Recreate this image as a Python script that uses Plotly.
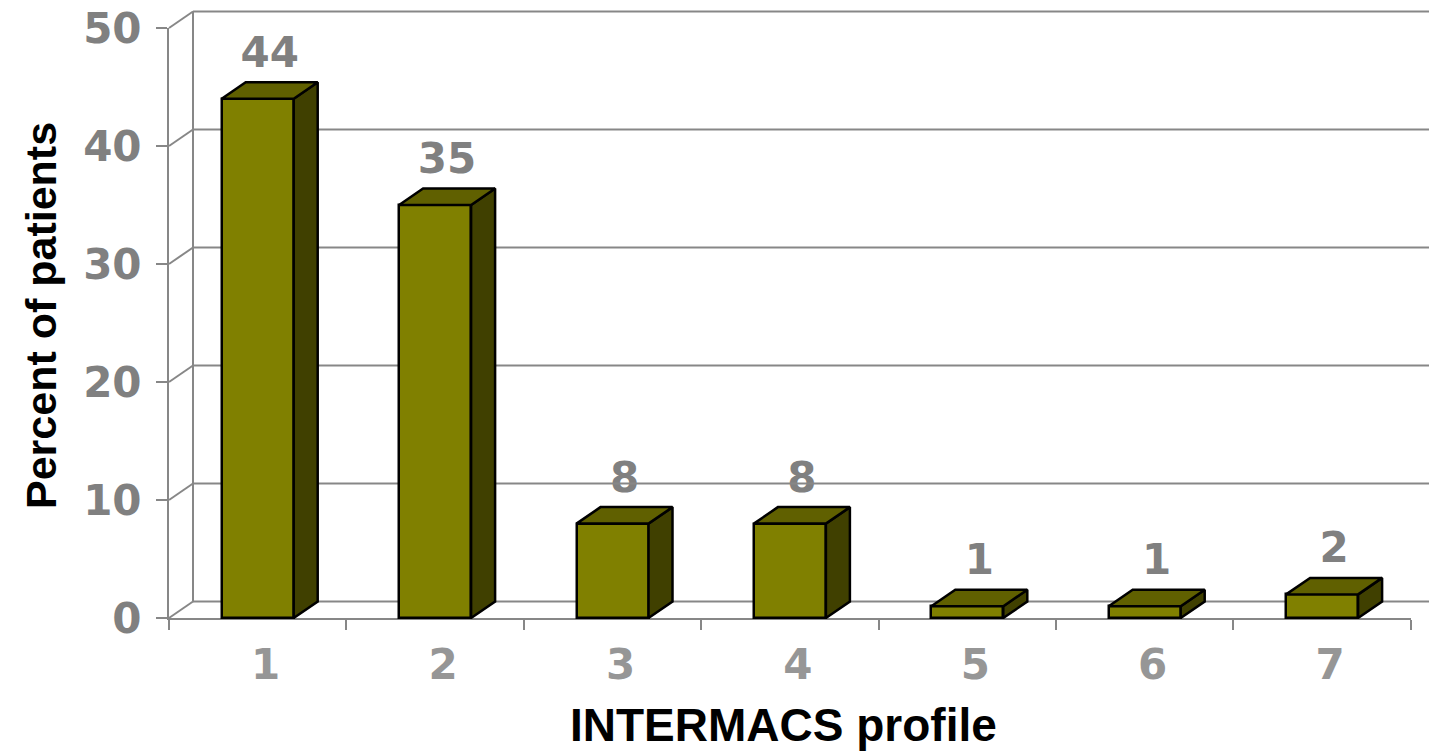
import plotly.graph_objects as go

# ---- data ----
profiles = ["1", "2", "3", "4", "5", "6", "7"]
percent = [44, 35, 8, 8, 1, 1, 2]
y_ticks = [0, 10, 20, 30, 40, 50]

# ---- geometry (pixels) ----
W, H = 1429, 755
X_LEFT = 169          # front plane, left edge of category axis
CAT_PX = 177.4        # width of one category
Y_BASE = 618          # front plane, value 0
UNIT_PX = 11.8        # pixels per percent
DX_PX, DY_PX = 24, 16.5   # depth offset of the back wall
BAR_PX = 72
LABEL_SHIFT_PX = 8
EDGE_W = 2.5

DXU = DX_PX / CAT_PX
DYU = DY_PX / UNIT_PX
BAR_W = BAR_PX / CAT_PX
N = len(profiles)
X_MAX = 0.5 + (W - X_LEFT) / CAT_PX

OLIVE = "#808000"
OLIVE_TOP = "#606000"
OLIVE_SIDE = "#404000"
GRID = "#878787"
TICK_GREY = "#808080"
CAT_GREY = "#969696"


def fx(p):
    return p / W


def fy(p):
    return 1 - p / H


centers = list(range(1, N + 1))
fig = go.Figure()

# value labels above the bars (front-plane axes share the depth axes' scale)
fig.add_trace(go.Scatter(
    x=[c + DXU / 2 for c in centers],
    y=[v + DYU + 2.2 for v in percent],
    text=[str(v) for v in percent],
    mode="text", textposition="middle center",
    textfont=dict(family="DejaVu Sans", size=42, color=TICK_GREY, weight="bold"),
    cliponaxis=False, xaxis="x", yaxis="y", hoverinfo="skip",
))

# front faces
fig.add_trace(go.Bar(
    x=centers, y=percent, width=BAR_W,
    marker=dict(color=OLIVE, line=dict(color="black", width=EDGE_W)),
    xaxis="x2", yaxis="y2", hoverinfo="skip",
))

# side and top faces of each bar
for c, v in zip(centers, percent):
    r = c + BAR_W / 2
    l = c - BAR_W / 2
    fig.add_trace(go.Scatter(
        x=[r, r + DXU, r + DXU, r, r], y=[0, DYU, v + DYU, v, 0],
        mode="lines", fill="toself", fillcolor=OLIVE_SIDE,
        line=dict(color="black", width=EDGE_W), xaxis="x2", yaxis="y2",
        hoverinfo="skip",
    ))
    fig.add_trace(go.Scatter(
        x=[l, r, r + DXU, l + DXU, l], y=[v, v, v + DYU, v + DYU, v],
        mode="lines", fill="toself", fillcolor=OLIVE_TOP,
        line=dict(color="black", width=EDGE_W), xaxis="x2", yaxis="y2",
        hoverinfo="skip",
    ))

# back wall grid and side-wall connectors
shapes = []
line_style = dict(color=GRID, width=2)
for v in y_ticks:
    shapes.append(dict(type="line", xref="x2", yref="y2", layer="below",
                       x0=0.5 + DXU, y0=v + DYU, x1=X_MAX, y1=v + DYU, line=line_style))
    shapes.append(dict(type="line", xref="x2", yref="y2", layer="below",
                       x0=0.5, y0=v, x1=0.5 + DXU, y1=v + DYU, line=line_style))
shapes.append(dict(type="line", xref="x2", yref="y2", layer="below",
                   x0=0.5 + DXU, y0=DYU, x1=0.5 + DXU, y1=y_ticks[-1] + DYU, line=line_style))

front_right = X_LEFT + N * CAT_PX

fig.update_layout(
    width=W, height=H,
    margin=dict(l=0, r=0, t=0, b=0, autoexpand=False),
    paper_bgcolor="white", plot_bgcolor="rgba(0,0,0,0)",
    showlegend=False, bargap=0,
    shapes=shapes,
    xaxis=dict(
        domain=[fx(X_LEFT), fx(front_right)], range=[0.5, N + 0.5],
        anchor="y", showgrid=False, zeroline=False, automargin=False,
        showline=True, linecolor=GRID, linewidth=2,
        tickmode="array", tickvals=[c + LABEL_SHIFT_PX / CAT_PX for c in centers],
        ticktext=profiles, ticks="", ticklabelstandoff=9,
        tickfont=dict(family="DejaVu Sans", size=42, color=CAT_GREY, weight="bold"),
        minor=dict(tickmode="array", tickvals=[i + 0.5 for i in range(N + 1)],
                   ticks="outside", ticklen=10, tickwidth=2, tickcolor=GRID,
                   showgrid=False),
    ),
    yaxis=dict(
        domain=[fy(Y_BASE), fy(Y_BASE - 50 * UNIT_PX)], range=[0, 50],
        anchor="x", showgrid=False, zeroline=False, automargin=False,
        showline=True, linecolor=GRID, linewidth=2,
        tickmode="array", tickvals=y_ticks, ticks="outside", ticklen=11,
        tickwidth=2, tickcolor=GRID, ticklabelstandoff=6,
        tickfont=dict(family="DejaVu Sans", size=42, color=TICK_GREY, weight="bold"),
    ),
    xaxis2=dict(
        domain=[fx(X_LEFT - 9), 1], range=[0.5 - 9 / CAT_PX, X_MAX],
        anchor="y2", visible=False, automargin=False,
    ),
    yaxis2=dict(
        domain=[fy(Y_BASE + 8), 1], range=[-8 / UNIT_PX, Y_BASE / UNIT_PX],
        anchor="x2", visible=False, automargin=False,
    ),
    annotations=[
        dict(text="INTERMACS profile", xref="paper", yref="paper",
             x=fx(784), y=fy(725), xanchor="center", yanchor="middle",
             showarrow=False,
             font=dict(family="Liberation Sans", size=46, color="black", weight="bold")),
        dict(text="Percent of patients", xref="paper", yref="paper",
             x=fx(41), y=fy(316), xanchor="center", yanchor="middle",
             textangle=-90, showarrow=False,
             font=dict(family="Liberation Sans", size=43, color="black", weight="bold")),
    ],
)

fig.write_html("out.html")
